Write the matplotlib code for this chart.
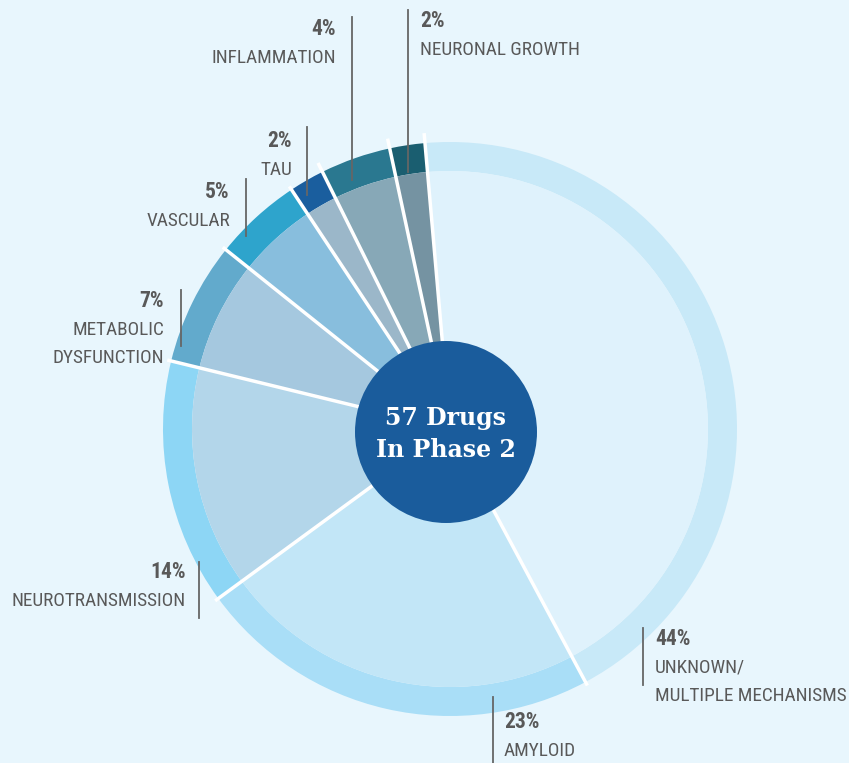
import numpy as np
import matplotlib.pyplot as plt
from matplotlib.patches import Circle

# data (share of the 57 phase-2 drugs)
categories = ['UNKNOWN/\nMULTIPLE MECHANISMS', 'AMYLOID', 'NEUROTRANSMISSION',
              'METABOLIC\nDYSFUNCTION', 'VASCULAR', 'TAU', 'INFLAMMATION',
              'NEURONAL GROWTH']
shares = [44, 23, 14, 7, 5, 2, 4, 2]
pct_labels = ['44%', '23%', '14%', '7%', '5%', '2%', '4%', '2%']
center_title = '57 Drugs\nIn Phase 2'

ring_colors = ['#c8e9f8', '#a9def7', '#8dd6f5', '#62aacc',
               '#2ea4cc', '#1a5e9e', '#2a7890', '#1a5e70']
inner_colors = ['#dff2fc', '#c2e6f7', '#b3d6ea', '#a5c8df',
                '#88bedd', '#9bb7c9', '#87a8b7', '#7593a2']

# label layout in pixels (top-left origin): text x, first baseline, align, leader x, y0, y1
label_pos = [
    (655, 645, 'left', 643, 628, 685),
    (504, 728, 'left', 493, 697, 763),
    (186, 578, 'right', 199, 562, 618),
    (164, 307, 'right', 181, 290, 346),
    (230, 198, 'right', 246, 179, 236),
    (292, 147, 'right', 307, 127, 195),
    (336, 35, 'right', 352, 17, 180),
    (420, 27, 'left', 408, 10, 172),
]

W, H = 849, 763
bg = '#e8f6fd'
txt_col = '#595959'
font = ['Roboto Condensed', 'Liberation Sans Narrow', 'Roboto']

fig = plt.figure(figsize=(W / 100, H / 100), dpi=100)
fig.patch.set_facecolor(bg)
ax = fig.add_axes([0, 0, 1, 1])
ax.set_facecolor(bg)

cx, cy = 450, H - 429
R = 287
ring_w = 29
start = 95

outer, _ = ax.pie(shares, radius=R, center=(cx, cy), startangle=start,
                  counterclock=False, colors=ring_colors, frame=True,
                  wedgeprops=dict(width=ring_w, linewidth=0))
ax.pie(shares, radius=R - ring_w, center=(cx, cy), startangle=start,
       counterclock=False, colors=inner_colors, frame=True,
       wedgeprops=dict(linewidth=0))

# white separators between slices (the ones at the top poke out a little)
for w in outer:
    a = np.deg2rad(w.theta1)
    ext = R + (10 if np.sin(a) > 0.85 else 4)
    ax.plot([cx, cx + ext * np.cos(a)], [cy, cy + ext * np.sin(a)],
            color='white', lw=2.5, solid_capstyle='butt', zorder=3)

ax.add_patch(Circle((446, H - 432), 91, facecolor='#1a5c9c', edgecolor='none', zorder=4))
ax.text(446, H - 434, center_title, ha='center', va='center', color='white',
        fontsize=17, fontweight='bold', family='DejaVu Serif', linespacing=1.4, zorder=5)

for cat, pct, (tx, ty, ha, lx, ly0, ly1) in zip(categories, pct_labels, label_pos):
    ax.text(tx, H - ty, pct, ha=ha, va='baseline', color=txt_col,
            fontsize=15.5, fontweight='bold', family=font)
    for i, line in enumerate(cat.split('\n')):
        ax.text(tx, H - ty - 28 * (i + 1), line, ha=ha, va='baseline',
                color=txt_col, fontsize=13.9, family=font)
    ax.plot([lx, lx], [H - ly0, H - ly1], color='#666666', lw=1.3)

ax.set_xlim(0, W)
ax.set_ylim(0, H)
ax.set_aspect('auto')
ax.axis('off')

plt.savefig('out.png', dpi=100, facecolor=bg)
